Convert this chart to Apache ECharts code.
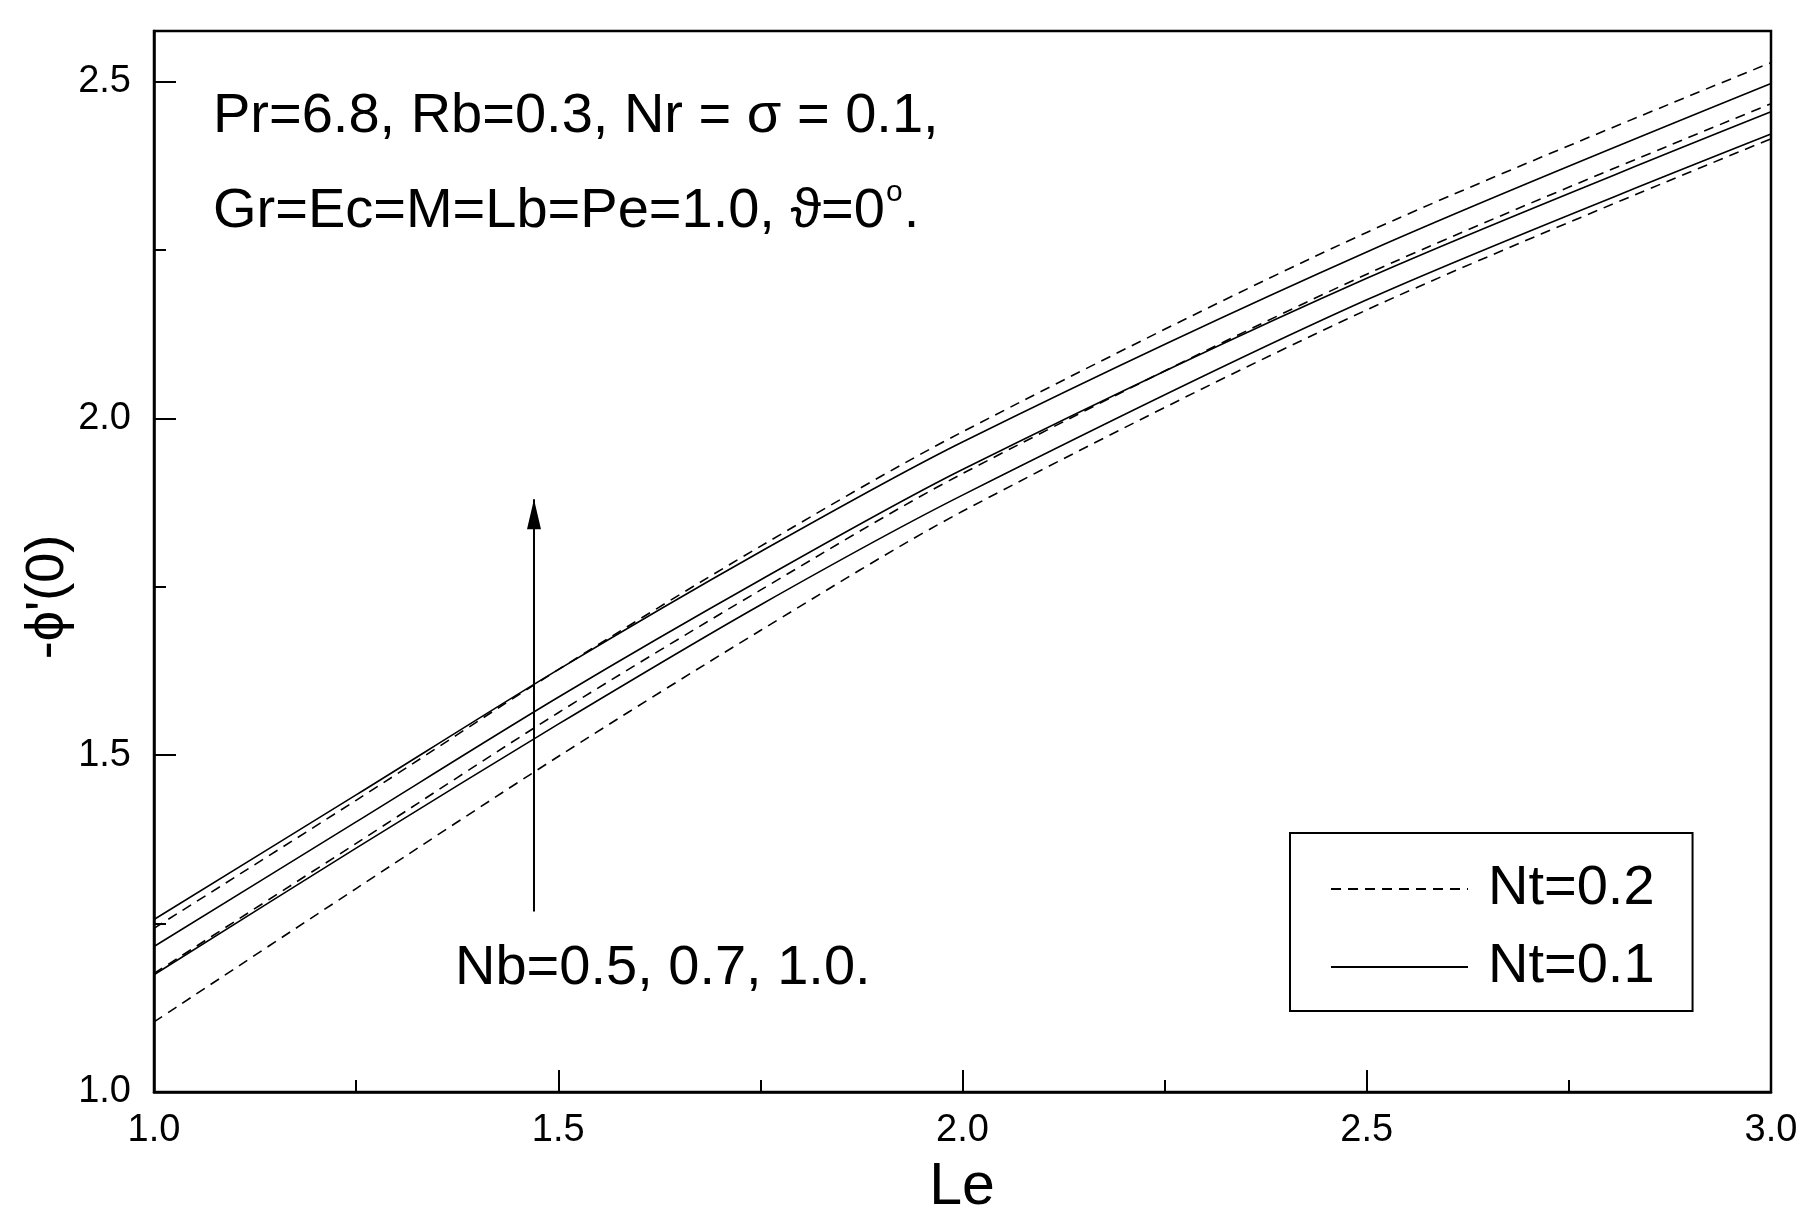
<!DOCTYPE html>
<html>
<head>
<meta charset="utf-8">
<script src="https://cdn.jsdelivr.net/npm/echarts@6/dist/echarts.min.js"></script>
<style>
html,body{margin:0;padding:0;background:#fff;}
#chart{width:1819px;height:1226px;}
</style>
</head>
<body>
<div id="chart"></div>
<script>
// ---- data ----
const le = [1.0, 1.25, 1.5, 1.75, 2.0, 2.5, 3.0];
// Nt = 0.1 (solid)
const nt01_nb05 = [1.174, 1.362, 1.546, 1.723, 1.886, 2.176, 2.422];
const nt01_nb07 = [1.216, 1.401, 1.586, 1.760, 1.924, 2.208, 2.455];
const nt01_nb10 = [1.256, 1.441, 1.627, 1.802, 1.965, 2.247, 2.497];
// Nt = 0.2 (dashed)
const nt02_nb05 = [1.104, 1.302, 1.498, 1.685, 1.862, 2.161, 2.415];
const nt02_nb07 = [1.176, 1.369, 1.563, 1.745, 1.918, 2.214, 2.467];
const nt02_nb10 = [1.243, 1.433, 1.627, 1.810, 1.980, 2.276, 2.528];
// arrow (Nb increasing)
const arrowLe = [1.47, 1.47];
const arrowPhi = [1.268, 1.88];
// ticks
const yMajorTicks = [1.0, 1.5, 2.0, 2.5];
const yMinorTicks = [1.25, 1.75, 2.25];
const legendNames = ['Nt=0.2', 'Nt=0.1'];
const annot1 = 'Pr=6.8, Rb=0.3, Nr = \u03c3 = 0.1,';
const annot2a = 'Gr=Ec=M=Lb=Pe=1.0, \u03d1=0';
const annot2sup = 'o';
const annot2end = '.';
const nbText = 'Nb=0.5, 0.7, 1.0.';
const xTitle = 'Le';
const yTitle = "-\u03d5'(0)";

const FONT = "'Liberation Sans', Arial, Helvetica, sans-serif";
const pairs = arr => le.map((x, i) => [x, arr[i]]);

function curve(name, arr, dashed) {
  return {
    type: 'line', name: name, data: pairs(arr),
    xAxisIndex: 0, yAxisIndex: 0,
    symbol: 'none', showSymbol: false, smooth: 0.3,
    lineStyle: { color: '#000', width: 1.6, type: dashed ? [10, 7] : 'solid' },
    itemStyle: { color: '#000' },
    emphasis: { disabled: true }, z: 3
  };
}

// measure text for the superscript placement
const mctx = document.createElement('canvas').getContext('2d');
const TXT = 56;
mctx.font = TXT + 'px ' + FONT;
const w2a = mctx.measureText(annot2a).width;
mctx.font = '30px ' + FONT;
const wSup = mctx.measureText(annot2sup).width;

const chart = echarts.init(document.getElementById('chart'), null, { renderer: 'canvas' });
const option = {
  animation: false,
  backgroundColor: '#fff',
  textStyle: { fontFamily: FONT },
  grid: { left: 154, right: 48, top: 31, bottom: 134, show: true, borderColor: '#000', borderWidth: 2.5, containLabel: false },
  xAxis: {
    type: 'value', min: 1, max: 3, interval: 0.5,
    axisLine: { show: true, lineStyle: { color: '#000', width: 2.5 } },
    axisTick: { show: true, inside: true, length: 22, lineStyle: { color: '#000', width: 2 } },
    minorTick: { show: true, splitNumber: 2, length: 12, lineStyle: { color: '#000', width: 2 } },
    axisLabel: { color: '#000', fontSize: 38, fontFamily: FONT, margin: 20, formatter: v => v.toFixed(1) },
    splitLine: { show: false }, minorSplitLine: { show: false }
  },
  yAxis: [
    {
      type: 'value', min: 1, max: 2.575,
      axisLine: { show: true, lineStyle: { color: '#000', width: 2.5 } },
      axisTick: { show: true, inside: true, length: 22, customValues: yMajorTicks, lineStyle: { color: '#000', width: 2 } },
      axisLabel: { color: '#000', fontSize: 38, fontFamily: FONT, margin: 23, customValues: yMajorTicks, formatter: v => v.toFixed(1) },
      splitLine: { show: false }
    },
    {
      type: 'value', min: 1, max: 2.575, position: 'left',
      axisLine: { show: false },
      axisTick: { show: true, inside: true, length: 12, customValues: yMinorTicks, lineStyle: { color: '#000', width: 2 } },
      axisLabel: { show: false },
      splitLine: { show: false }
    }
  ],
  legend: {
    data: legendNames,
    orient: 'vertical',
    left: 1290, top: 833,
    padding: [28, 38, 16, 40],
    itemGap: 22,
    itemWidth: 137, itemHeight: 30,
    borderColor: '#000', borderWidth: 2,
    backgroundColor: '#fff',
    selectedMode: false,
    itemStyle: { opacity: 0, color: 'transparent', borderWidth: 0 },
    textStyle: { color: '#000', fontSize: TXT, fontFamily: FONT, lineHeight: 54, padding: [0, 0, 0, 15] }
  },
  series: [
    curve('Nt=0.2', nt02_nb05, true),
    curve('Nt=0.2', nt02_nb07, true),
    curve('Nt=0.2', nt02_nb10, true),
    curve('Nt=0.1', nt01_nb05, false),
    curve('Nt=0.1', nt01_nb07, false),
    curve('Nt=0.1', nt01_nb10, false),
    {
      type: 'line', name: 'arrow',
      data: [
        { value: [arrowLe[0], arrowPhi[0]], symbol: 'none' },
        { value: [arrowLe[1], arrowPhi[1]], symbol: 'triangle', symbolSize: [14, 30], symbolOffset: [0, '50%'] }
      ],
      lineStyle: { color: '#000', width: 2 },
      itemStyle: { color: '#000' },
      emphasis: { disabled: true }, z: 4
    }
  ],
  graphic: [
    { type: 'text', x: 213, y: 117, style: { text: annot1, font: TXT + 'px ' + FONT, fill: '#000', align: 'left', verticalAlign: 'middle' } },
    { type: 'text', x: 213, y: 212, style: { text: annot2a, font: TXT + 'px ' + FONT, fill: '#000', align: 'left', verticalAlign: 'middle' } },
    { type: 'text', x: 213 + w2a + 1, y: 193, style: { text: annot2sup, font: '30px ' + FONT, fill: '#000', align: 'left', verticalAlign: 'middle' } },
    { type: 'text', x: 213 + w2a + wSup + 2, y: 212, style: { text: annot2end, font: TXT + 'px ' + FONT, fill: '#000', align: 'left', verticalAlign: 'middle' } },
    { type: 'text', x: 455, y: 969, style: { text: nbText, font: TXT + 'px ' + FONT, fill: '#000', align: 'left', verticalAlign: 'middle' } },
    { type: 'text', x: 962, y: 1188, style: { text: xTitle, font: '59px ' + FONT, fill: '#000', align: 'center', verticalAlign: 'middle' } },
    { type: 'text', x: 48, y: 597, rotation: Math.PI / 2, style: { text: yTitle, font: '54px ' + FONT, fill: '#000', align: 'center', verticalAlign: 'middle' } }
  ]
};
chart.setOption(option);
</script>
</body>
</html>
